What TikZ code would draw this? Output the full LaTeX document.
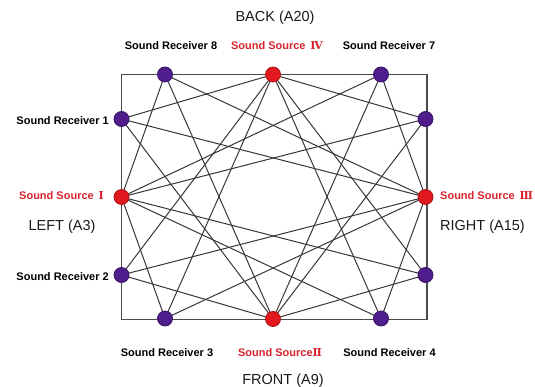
\documentclass[tikz,border=0pt]{standalone}
\usepackage{fontspec}
\setmainfont{Liberation Sans}
\newfontfamily\numfont{DejaVu Serif}
\usepackage{xcolor}
\usepackage{tikz}
\usetikzlibrary{positioning}
\definecolor{srcred}{RGB}{225,25,30}
\definecolor{srcedge}{RGB}{170,20,20}
\definecolor{recpurple}{RGB}{80,30,140}
\definecolor{recedge}{RGB}{55,20,100}
\definecolor{txtred}{RGB}{215,35,45}
\definecolor{linegray}{RGB}{55,55,55}

\begin{document}
\begin{tikzpicture}[
			x=1pt, y=-1pt,
			receiver/.style={circle, draw=recedge, fill=recpurple, line width=0.8pt, minimum size=15pt, inner sep=0pt},
			source/.style={circle, draw=srcedge, fill=srcred, line width=0.8pt, minimum size=15pt, inner sep=0pt},
			path/.style={draw=linegray, line width=1pt},
			room/.style={draw=linegray!90, line width=1.2pt},
			reclabel/.style={inner sep=0pt, font=\bfseries\fontsize{11}{13}\selectfont},
			srclabel/.style={inner sep=0pt, text=txtred, font=\bfseries\fontsize{11}{13}\selectfont},
			side/.style={inner sep=0pt, text=black!90, font=\fontsize{14.5}{16}\selectfont}
			]
			
			\useasboundingbox (0,0) rectangle (535,387);
			
			% Room outline
			\draw[room] (121.5,74.5) rectangle (427,319.5);
			
			% Sound sources
			\coordinate (srcIVpos) at (273,74.5);
			\coordinate (srcIpos) at (121.5,197);
			\coordinate (srcIIIpos) at (425.5,197);
			\coordinate (srcIIpos) at (273,319);
			
			% Sound receivers
			\coordinate (rec8pos) at (165,74.5);
			\coordinate (rec7pos) at (381,74.5);
			\coordinate (rec1pos) at (121.5,119);
			\coordinate (rec6pos) at (425.5,119);
			\coordinate (rec2pos) at (121.5,275);
			\coordinate (rec5pos) at (425.5,275);
			\coordinate (rec3pos) at (165,318.5);
			\coordinate (rec4pos) at (381,318.5);
			
			% Sound paths - each receiver to the three far sources
			\draw[path] (rec8pos) -- (srcIpos);
			\draw[path] (rec8pos) -- (srcIIpos);
			\draw[path] (rec8pos) -- (srcIIIpos);
			\draw[path] (rec7pos) -- (srcIpos);
			\draw[path] (rec7pos) -- (srcIIpos);
			\draw[path] (rec7pos) -- (srcIIIpos);
			\draw[path] (rec1pos) -- (srcIVpos);
			\draw[path] (rec1pos) -- (srcIIpos);
			\draw[path] (rec1pos) -- (srcIIIpos);
			\draw[path] (rec2pos) -- (srcIVpos);
			\draw[path] (rec2pos) -- (srcIIpos);
			\draw[path] (rec2pos) -- (srcIIIpos);
			\draw[path] (rec3pos) -- (srcIpos);
			\draw[path] (rec3pos) -- (srcIVpos);
			\draw[path] (rec3pos) -- (srcIIIpos);
			\draw[path] (rec4pos) -- (srcIpos);
			\draw[path] (rec4pos) -- (srcIVpos);
			\draw[path] (rec4pos) -- (srcIIIpos);
			\draw[path] (rec6pos) -- (srcIpos);
			\draw[path] (rec6pos) -- (srcIVpos);
			\draw[path] (rec6pos) -- (srcIIpos);
			\draw[path] (rec5pos) -- (srcIpos);
			\draw[path] (rec5pos) -- (srcIVpos);
			\draw[path] (rec5pos) -- (srcIIpos);
			
			% Node markers on top
			\node[source] (srcIV) at (srcIVpos) {};
			\node[source] (srcI) at (srcIpos) {};
			\node[source] (srcIII) at (srcIIIpos) {};
			\node[source] (srcII) at (srcIIpos) {};
			\node[receiver] (rec8) at (rec8pos) {};
			\node[receiver] (rec7) at (rec7pos) {};
			\node[receiver] (rec1) at (rec1pos) {};
			\node[receiver] (rec6) at (rec6pos) {};
			\node[receiver] (rec2) at (rec2pos) {};
			\node[receiver] (rec5) at (rec5pos) {};
			\node[receiver] (rec3) at (rec3pos) {};
			\node[receiver] (rec4) at (rec4pos) {};
			
			% Labels
			\node[reclabel] (lab8) at (171,45.5) {Sound Receiver 8};
			\node[srclabel] (labIV) at (277,45.5) {Sound Source \,{\numfont Ⅳ}};
			\node[reclabel] (lab7) at (389,45.5) {Sound Receiver 7};
			\node[reclabel, anchor=east] (lab1) at (109,120.5) {Sound Receiver 1};
			\node[srclabel, anchor=east] (labI) at (104,196) {Sound Source \,{\numfont Ⅰ}};
			\node[srclabel, anchor=west] (labIII) at (440,196) {Sound Source \,{\numfont Ⅲ}};
			\node[reclabel, anchor=east] (lab2) at (109,276.5) {Sound Receiver 2};
			\node[reclabel] (lab3) at (167,352.5) {Sound Receiver 3};
			\node[srclabel] (labII) at (280,352.5) {Sound Source{\numfont Ⅱ}};
			\node[reclabel] (lab4) at (389.5,352.5) {Sound Receiver 4};
			
			% Room sides
			\node[side] (back) at (275,18) {BACK (A20)};
			\node[side] (left) at (62,227) {LEFT (A3)};
			\node[side] (right) at (482.5,227) {RIGHT (A15)};
			\node[side] (front) at (283,380.5) {FRONT (A9)};
			
		\end{tikzpicture}
\end{document}
